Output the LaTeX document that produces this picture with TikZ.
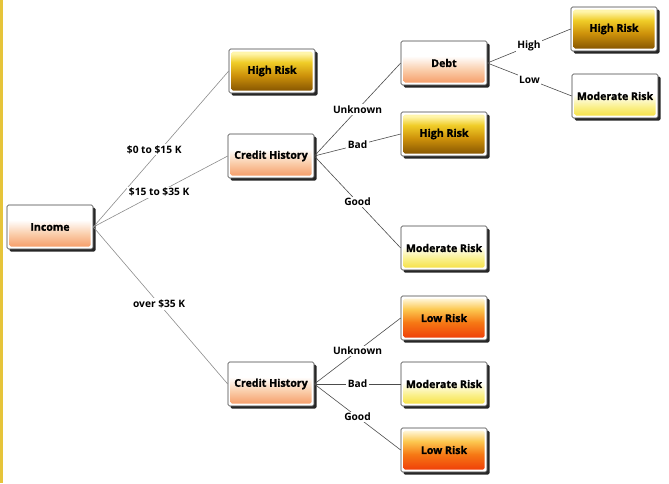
\documentclass[tikz,border=0pt]{standalone}
\usepackage{fontspec}
\setmainfont{Open Sans}
\newfontfamily\heavy{Open Sans}[BoldFeatures={FakeBold=1.2}]
\usetikzlibrary{shadows}
\definecolor{stripe}{RGB}{230,196,58}
\definecolor{peachB}{RGB}{245,150,95}
\definecolor{peachM}{RGB}{250,205,170}
\definecolor{brownB}{RGB}{125,78,0}
\definecolor{goldM}{RGB}{205,145,10}
\definecolor{goldT}{RGB}{240,205,40}
\definecolor{paleY}{RGB}{255,245,170}
\definecolor{yelB}{RGB}{245,222,55}
\definecolor{yelM}{RGB}{250,240,140}
\definecolor{redB}{RGB}{238,55,8}
\definecolor{orM}{RGB}{246,120,20}
\definecolor{orT}{RGB}{252,200,80}
\definecolor{paleT}{RGB}{255,246,215}
\pgfdeclareverticalshading{peachsh}{100bp}{color(0bp)=(peachB); color(25bp)=(peachB); color(42bp)=(peachM); color(58bp)=(white); color(100bp)=(white)}
\pgfdeclareverticalshading{highsh}{100bp}{color(0bp)=(brownB); color(25bp)=(brownB); color(45bp)=(goldM); color(60bp)=(goldT); color(70bp)=(paleY); color(75bp)=(paleY); color(100bp)=(paleY)}
\pgfdeclareverticalshading{modsh}{100bp}{color(0bp)=(yelB); color(25bp)=(yelB); color(38bp)=(yelM); color(52bp)=(white); color(100bp)=(white)}
\pgfdeclareverticalshading{lowsh}{100bp}{color(0bp)=(redB); color(25bp)=(redB); color(45bp)=(orM); color(60bp)=(orT); color(72bp)=(paleT); color(100bp)=(paleT)}
\tikzset{
  box/.style={draw=black!75, line width=0.6pt, rounded corners=1.5pt, fill=white,
    minimum width=86pt, minimum height=44pt, inner sep=0pt,
    font=\heavy\bfseries\fontsize{10.6}{13}\selectfont,
    drop shadow={shadow xshift=2.5pt, shadow yshift=-2.5pt, opacity=0.85, fill=black},
    path picture={\shade[shading=#1] ([shift={(2.5pt,2.5pt)}]path picture bounding box.south west) rectangle ([shift={(-2.5pt,-2.5pt)}]path picture bounding box.north east);}},
  peachbox/.style={box=peachsh},
  highbox/.style={box=highsh},
  modbox/.style={box=modsh},
  lowbox/.style={box=lowsh},
  inc/.style={draw=black!45, line width=0.6pt},
  sub/.style={draw=black!70, line width=0.6pt},
  elbl/.style={fill=white, inner sep=1.5pt, font=\bfseries\fontsize{10.2}{12}\selectfont}
}
\begin{document}
\begin{tikzpicture}[x=1pt,y=-1pt]
\useasboundingbox (0,0) rectangle (669,483);
\fill[stripe] (0,0) rectangle (3,483);
% nodes
\node[peachbox] (income) at (50,227) {Income};
\node[highbox] (hr1) at (272,71) {High Risk};
\node[peachbox] (ch1) at (271,156) {Credit History};
\node[peachbox] (ch2) at (271,384) {Credit History};
\node[peachbox] (debt) at (444,63) {Debt};
\node[highbox] (hr2) at (444,134) {High Risk};
\node[modbox] (mr1) at (444,248) {Moderate Risk};
\node[highbox] (hr3) at (614,29) {High Risk};
\node[modbox] (mr2) at (615,96) {Moderate Risk};
\node[lowbox] (lr1) at (444,318) {Low Risk};
\node[modbox] (mr3) at (444,384) {Moderate Risk};
\node[lowbox] (lr2) at (444,450) {Low Risk};
% edges
\draw[inc] (income.east) -- node[elbl,pos=.45,yshift=7pt] (l1) {\$0 to \$15 K} (hr1.west);
\draw[inc] (income.east) -- node[elbl,pos=.49] (l2) {\$15 to \$35 K} (ch1.west);
\draw[inc] (income.east) -- node[elbl,pos=.49] (l3) {over \$35 K} (ch2.west);
\draw[sub] (ch1.east) -- node[elbl] (l4) {Unknown} (debt.west);
\draw[sub] (ch1.east) -- node[elbl] (l5) {Bad} (hr2.west);
\draw[sub] (ch1.east) -- node[elbl] (l6) {Good} (mr1.west);
\draw[sub] (debt.east) -- node[elbl] (l7) {High} (hr3.west);
\draw[sub] (debt.east) -- node[elbl] (l8) {Low} (mr2.west);
\draw[sub] (ch2.east) -- node[elbl] (l9) {Unknown} (lr1.west);
\draw[sub] (ch2.east) -- node[elbl] (l10) {Bad} (mr3.west);
\draw[sub] (ch2.east) -- node[elbl] (l11) {Good} (lr2.west);
\end{tikzpicture}
\end{document}
